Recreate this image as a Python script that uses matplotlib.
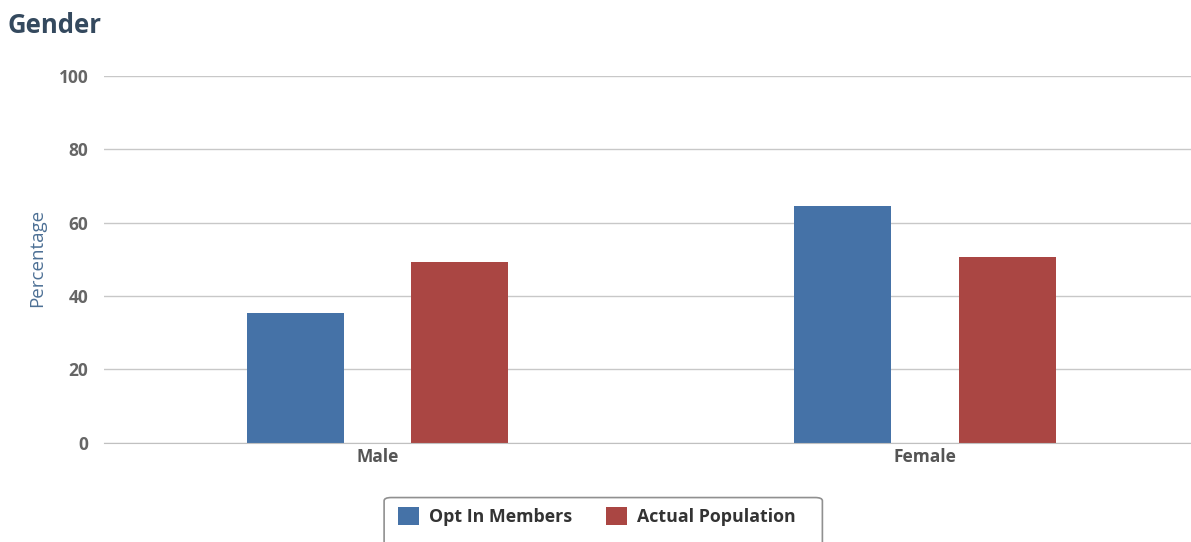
import numpy as np
import matplotlib.pyplot as plt
from matplotlib.patches import FancyBboxPatch

# Gender split: opt-in members vs actual population (percent)
categories = ["Male", "Female"]
opt_in = [35.4, 64.6]
actual = [49.4, 50.6]
series_names = ["Opt In Members", "Actual Population"]
yticks = [0, 20, 40, 60, 80, 100]

blue = "#4572A7"
red = "#AA4643"

plt.rcParams["font.family"] = ["Open Sans", "DejaVu Sans"]

fig = plt.figure(figsize=(11.91, 5.42), dpi=100)
# plot area runs a little past the right edge of the figure
ax = fig.add_axes([0.0871, 0.183, 0.9194, 0.677])

x = np.arange(len(categories))
width = 0.177
offset = 0.15
b1 = ax.bar(x - offset, opt_in, width, color=blue, zorder=3)
b2 = ax.bar(x + offset, actual, width, color=red, zorder=3)

ax.set_xlim(-0.5, 1.5)
ax.set_ylim(0, 100)
ax.set_yticks(yticks)
ax.set_yticklabels([str(t) for t in yticks], fontsize=12.5, fontweight="bold", color="#666666")
ax.set_xticks(x)
ax.set_xticklabels(categories, fontsize=12.5, fontweight="bold", color="#555555")
ax.tick_params(axis="both", length=0)
ax.tick_params(axis="y", pad=11)
ax.tick_params(axis="x", pad=4)

ax.grid(axis="y", color="#C8C8C8", linewidth=1, zorder=0)
for side in ["top", "right", "left"]:
    ax.spines[side].set_visible(False)
ax.spines["bottom"].set_color("#C0C0C0")
ax.spines["bottom"].set_zorder(4)

fig.text(0.031, 0.525, "Percentage", rotation=90, ha="center", va="center",
         fontsize=13.5, color="#4D7095")
fig.text(0.006, 0.953, "Gender", ha="left", va="center", fontsize=18.5,
         fontweight="bold", color="#34495E")

# legend box sits at the bottom and runs past the figure edge
leg_box = FancyBboxPatch((0.3225, -0.05), 0.368, 0.132,
                         boxstyle="round,pad=0,rounding_size=0.006",
                         transform=fig.transFigure, facecolor="white",
                         edgecolor="#909090", linewidth=1.2, zorder=1)
fig.patches.append(leg_box)
leg = fig.legend([b1, b2], series_names, loc="center left",
                 bbox_to_anchor=(0.3205, 0.047), ncol=2, frameon=False,
                 handlelength=1.2, handleheight=1.2, handletextpad=0.55,
                 columnspacing=1.9, prop={"size": 12.8, "weight": "bold"})
for t in leg.get_texts():
    t.set_color("#333333")

fig.savefig("out.png", dpi=100)
